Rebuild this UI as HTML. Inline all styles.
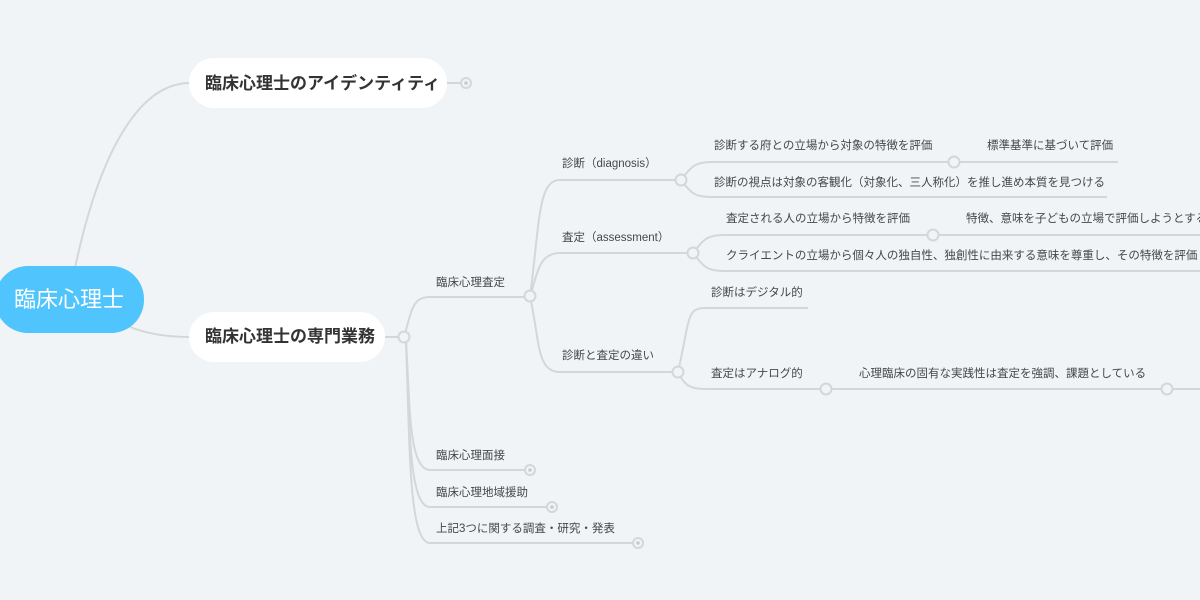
<!DOCTYPE html>
<html><head><meta charset="utf-8"><style>
html,body{margin:0;padding:0;background:#f0f4f7;}
svg{display:block;}
text{font-family:"Liberation Sans","Noto Sans CJK JP",sans-serif;}
.t{font-size:11.5px;fill:#474747;}
.l{fill:none;stroke:#d4d7da;stroke-width:2;}
.c{fill:#f0f4f7;stroke:#d4d7da;stroke-width:2;}
</style></head><body>
<svg width="1200" height="600" viewBox="0 0 1200 600" xmlns="http://www.w3.org/2000/svg">
<rect width="1200" height="600" fill="#f0f4f7"/>
<!-- root connectors -->
<path class="l" d="M75 268 C 100 150, 140 83, 190 83"/>
<path class="l" d="M130 327 C 150 335, 170 337, 190 337"/>
<!-- identity -->
<path class="l" d="M447 83 H461"/>
<circle class="c" cx="466" cy="83" r="5"/><circle cx="466" cy="83" r="1.8" fill="#c8cbce"/>
<!-- 専門 -->
<path class="l" d="M385 337 H399"/>
<!-- trunk branches from 404,337 -->
<path class="l" d="M404 337 C 412 310, 412 297, 430 297 H525"/>
<path class="l" d="M406 342 C 410 400, 408 470, 430 470 H525"/>
<path class="l" d="M406 342 C 410 420, 408 507, 430 507 H547"/>
<path class="l" d="M406 342 C 410 440, 408 543, 430 543 H633"/>
<circle class="c" cx="404" cy="337" r="5.5"/>
<circle class="c" cx="530" cy="470" r="5"/><circle cx="530" cy="470" r="1.8" fill="#c8cbce"/>
<circle class="c" cx="552" cy="507" r="5"/><circle cx="552" cy="507" r="1.8" fill="#c8cbce"/>
<circle class="c" cx="638" cy="543" r="5"/><circle cx="638" cy="543" r="1.8" fill="#c8cbce"/>
<!-- 査定 children -->
<path class="l" d="M530 297 C 540 220, 538 180, 560 180 H676"/>
<path class="l" d="M530 297 C 538 270, 540 253, 560 253 H688"/>
<path class="l" d="M530 297 C 540 340, 536 372, 560 372 H673"/>
<circle class="c" cx="530" cy="296" r="5.5"/>
<!-- 診断 children -->
<path class="l" d="M681 180 C 692 166, 695 162, 712 162 H949"/>
<path class="l" d="M681 180 C 692 194, 695 197, 712 197 H1107"/>
<circle class="c" cx="681" cy="180" r="5.5"/>
<path class="l" d="M959 162 H1118"/>
<circle class="c" cx="954" cy="162" r="5.5"/>
<!-- 査定 (assessment) children -->
<path class="l" d="M693 253 C 704 239, 707 235, 724 235 H928"/>
<path class="l" d="M693 253 C 704 267, 707 271, 724 271 H1200"/>
<circle class="c" cx="693" cy="253" r="5.5"/>
<path class="l" d="M938 235 H1200"/>
<circle class="c" cx="933" cy="235" r="5.5"/>
<!-- 違い children -->
<path class="l" d="M678 372 C 690 320, 686 308, 705 308 H808"/>
<path class="l" d="M678 372 C 684 385, 690 389, 705 389 H821"/>
<circle class="c" cx="678" cy="372" r="5.5"/>
<path class="l" d="M831 389 H1162"/>
<circle class="c" cx="826" cy="389" r="5.5"/>
<path class="l" d="M1172 389 H1200"/>
<circle class="c" cx="1167" cy="389" r="5.5"/>
<!-- nodes -->
<rect x="-5" y="266" width="149" height="67" rx="33" fill="#4fc4fd"/>
<text x="69" y="307" font-size="22" fill="#fff" text-anchor="middle">臨床心理士</text>
<rect x="189" y="58" width="258" height="50" rx="25" fill="#fff"/>
<text x="205" y="89" font-size="17" font-weight="bold" fill="#333">臨床心理士のアイデンティティ</text>
<rect x="189" y="312" width="196" height="50" rx="25" fill="#fff"/>
<text x="205" y="342" font-size="17" font-weight="bold" fill="#333">臨床心理士の専門業務</text>
<!-- labels -->
<text class="t" x="436" y="286">臨床心理査定</text>
<text class="t" x="436" y="459">臨床心理面接</text>
<text class="t" x="436" y="496">臨床心理地域援助</text>
<text class="t" x="436" y="532">上記3つに関する調査・研究・発表</text>
<text class="t" x="562" y="167">診断（diagnosis）</text>
<text class="t" x="562" y="241">査定（assessment）</text>
<text class="t" x="562" y="359">診断と査定の違い</text>
<text class="t" x="714" y="149">診断する府との立場から対象の特徴を評価</text>
<text class="t" x="714" y="186">診断の視点は対象の客観化（対象化、三人称化）を推し進め本質を見つける</text>
<text class="t" x="987" y="149">標準基準に基づいて評価</text>
<text class="t" x="726" y="222">査定される人の立場から特徴を評価</text>
<text class="t" x="726" y="259">クライエントの立場から個々人の独自性、独創性に由来する意味を尊重し、その特徴を評価しようとする</text>
<text class="t" x="966" y="222">特徴、意味を子どもの立場で評価しようとする</text>
<text class="t" x="711" y="296">診断はデジタル的</text>
<text class="t" x="711" y="377">査定はアナログ的</text>
<text class="t" x="859" y="377">心理臨床の固有な実践性は査定を強調、課題としている</text>
</svg>
</body></html>
